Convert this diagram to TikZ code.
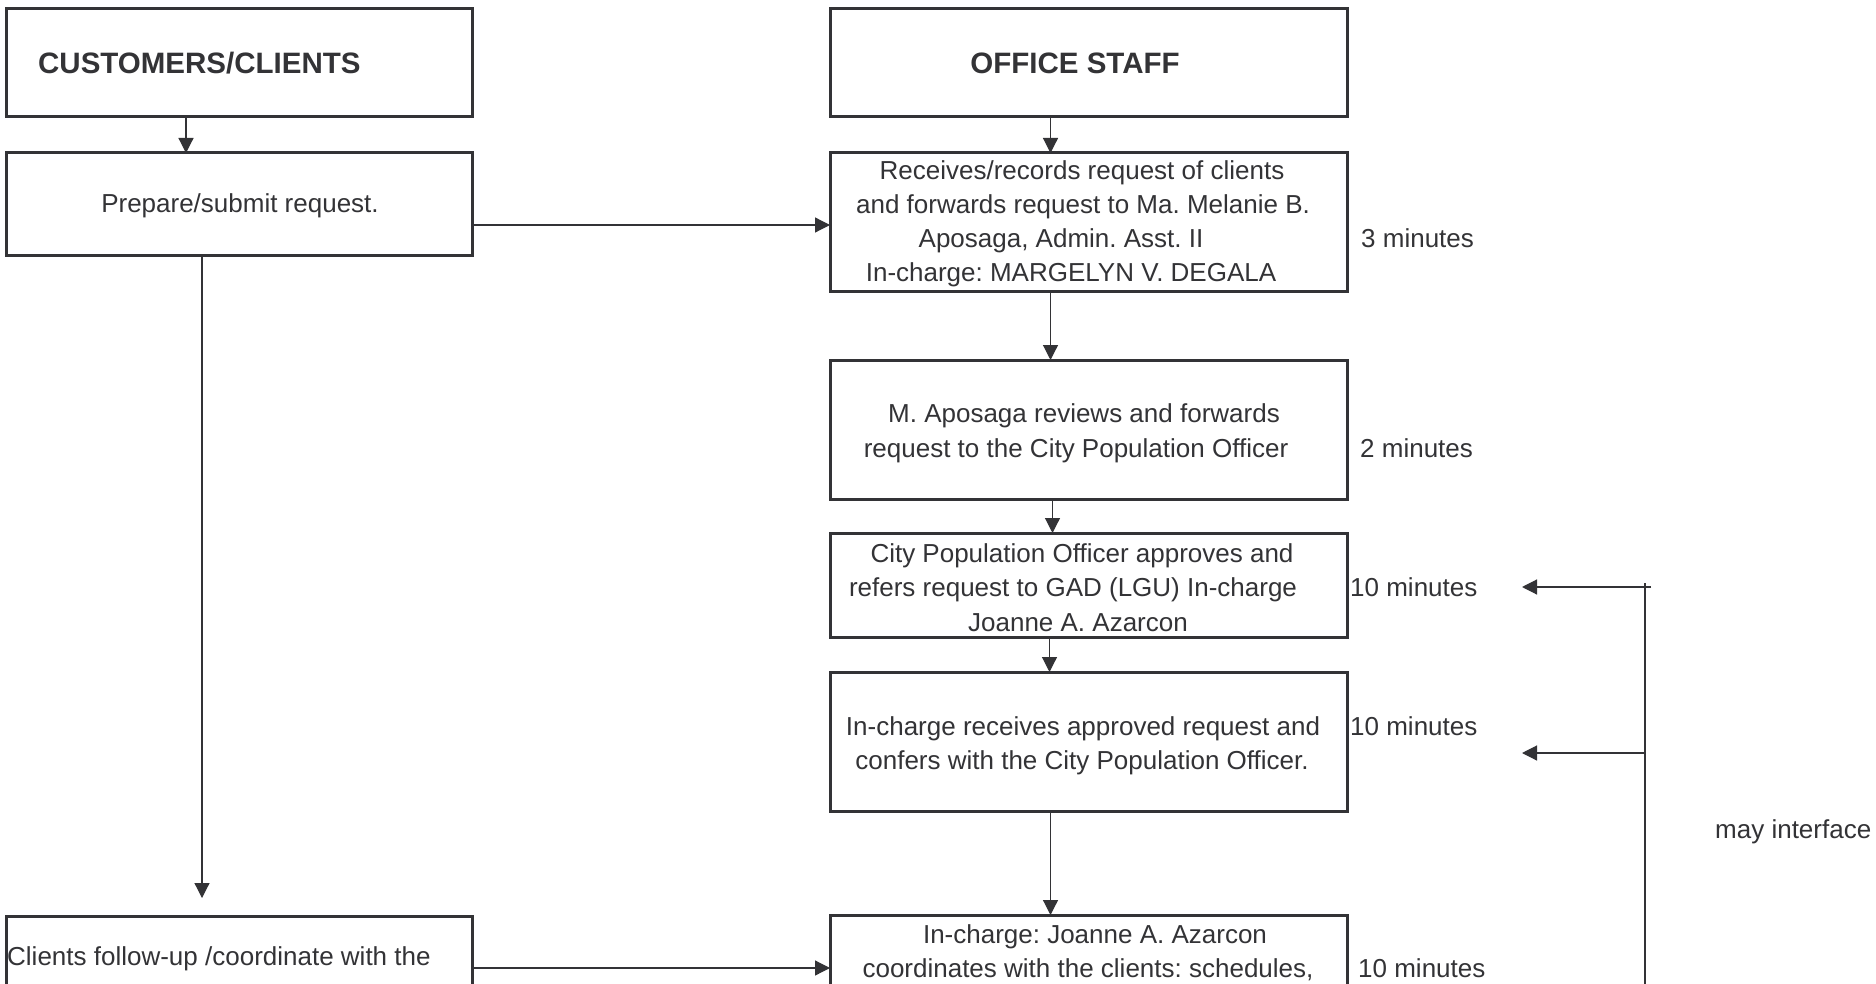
\documentclass[tikz,border=0pt]{standalone}
\usepackage{fontspec}
\setmainfont{Liberation Sans}
\usetikzlibrary{arrows.meta}
\definecolor{ink}{HTML}{333336}
\frenchspacing
\begin{document}
\begin{tikzpicture}[x=1pt,y=-1pt,
  box/.style={draw=ink, line width=3pt, rectangle, inner sep=0pt, outer sep=0pt, anchor=north west},
  lbox/.style={box, minimum width=466pt},
  rbox/.style={box, minimum width=517pt},
  txt/.style={text=ink, font=\fontsize{26}{34}\selectfont, inner sep=0pt, anchor=base},
  txtl/.style={txt, anchor=base west},
  hdr/.style={text=ink, font=\bfseries\fontsize{29.5}{36}\selectfont, inner sep=0pt},
  conn/.style={draw=ink, line width=1.2pt},
  arr/.style={conn, -{Triangle[length=15pt,width=15pt]}}]
\clip (0,0) rectangle (1876,984);
\fill[white] (0,0) rectangle (1876,984);

% left column boxes
\node[lbox, minimum height=108pt] (c1) at (6,9) {};
\node[lbox, minimum height=103pt] (c2) at (6,153) {};
\node[lbox, minimum height=130pt] (c3) at (6,916) {};
% right column boxes
\node[rbox, minimum height=108pt] (s1) at (830,9) {};
\node[rbox, minimum height=139pt] (s2) at (830,153) {};
\node[rbox, minimum height=139pt] (s3) at (830,360) {};
\node[rbox, minimum height=104pt] (s4) at (830,533) {};
\node[rbox, minimum height=139pt] (s5) at (830,672) {};
\node[rbox, minimum height=130pt] (s6) at (830,915) {};

% texts
\node[hdr, anchor=base west] (h1) at (38,74) {CUSTOMERS/CLIENTS};
\node[hdr, anchor=base] (h2) at (1075,74) {OFFICE STAFF};
\node[txt] (p1) at (240,213) {Prepare/submit request.};
\node[txt] (r1) at (1082,180) {Receives/records request of clients};
\node[txt] (r2) at (1083,214) {and forwards request to Ma. Melanie B.};
\node[txt] (r3) at (1061,248) {Aposaga, Admin. Asst. II};
\node[txt] (r4) at (1071,282) {In-charge: MARGELYN V. DEGALA};
\node[txt] (a1) at (1084,422) {M. Aposaga reviews and forwards};
\node[txt] (a2) at (1076,457) {request to the City Population Officer};
\node[txt] (y1) at (1082,562) {City Population Officer approves and};
\node[txt] (y2) at (1073,596) {refers request to GAD (LGU) In-charge};
\node[txt] (y3) at (1078,631) {Joanne A. Azarcon};
\node[txt] (i1) at (1083,735) {In-charge receives approved request and};
\node[txt] (i2) at (1082,769) {confers with the City Population Officer.};
\node[txt] (b1) at (1095,943) {In-charge: Joanne A. Azarcon};
\node[txt] (b2) at (1088,977) {coordinates with the clients: schedules,};
\node[txtl] (k1) at (7,965) {Clients follow-up /coordinate with the};
\node[txtl] (m1) at (1361,248) {3 minutes};
\node[txtl] (m2) at (1360,457) {2 minutes};
\node[txtl] (m3) at (1350,596) {10 minutes};
\node[txtl] (m4) at (1350,735) {10 minutes};
\node[txtl] (m5) at (1358,977) {10 minutes};
\node[txtl] (mi) at (1715,838) {may interface};

% left connectors
\draw[arr] ([xshift=-53pt]c1.south) -- ([xshift=-53pt]c2.north);
\draw[arr] ([xshift=-37pt]c2.south) -- ([xshift=-37pt,yshift=18pt]c3.north);
\draw[arr] ([yshift=-20.5pt]c2.east) coordinate (pa) -- (pa -| s2.west);
\draw[arr] ([yshift=13pt]c3.east) coordinate (pb) -- (pb -| s6.west);
% right column connectors
\draw[arr] ([xshift=-38pt]s1.south) -- ([xshift=-38pt]s2.north);
\draw[arr] ([xshift=-38pt]s2.south) -- ([xshift=-38pt]s3.north);
\draw[arr] ([xshift=-36pt]s3.south) -- ([xshift=-36pt]s4.north);
\draw[arr] ([xshift=-39pt]s4.south) -- ([xshift=-39pt]s5.north);
\draw[arr] ([xshift=-38pt]s5.south) -- ([xshift=-38pt]s6.north);

% may interface feedback
\coordinate (fbT) at (1645,583);
\coordinate (fbB) at (1645,990);
\draw[draw=ink, line width=2pt] (fbT) -- (fbB);
\coordinate (f1s) at (1651,587);
\coordinate (f1e) at (1522,587);
\coordinate (f2s) at (1644,753);
\coordinate (f2e) at (1522,753);
\draw[arr] (f1s) -- (f1e);
\draw[arr] (f2s) -- (f2e);
\end{tikzpicture}
\end{document}
